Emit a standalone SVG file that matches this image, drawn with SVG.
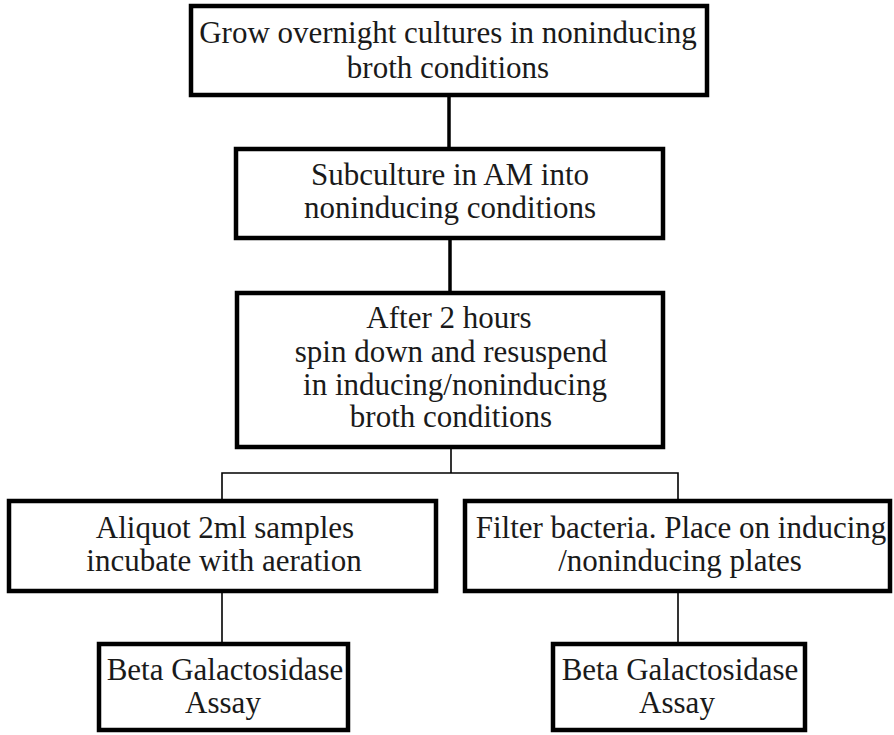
<svg xmlns="http://www.w3.org/2000/svg" width="894" height="735" viewBox="0 0 894 735">
  <style>
    .box { fill: #ffffff; stroke: #000000; stroke-width: 4.5; }
    .lbl { font-family: "Liberation Serif", "Times New Roman", serif; font-size: 31px; fill: #1a1a1a; text-anchor: middle; }
    .thick { stroke: #000000; stroke-width: 3.5; fill: none; }
    .thin { stroke: #000000; stroke-width: 1.6; fill: none; }
  </style>
  <rect width="894" height="735" fill="#ffffff"/>

  <!-- connectors -->
  <g id="connectors">
    <line class="thick" x1="449" y1="96" x2="449" y2="149"/>
    <line class="thick" x1="450" y1="238" x2="450" y2="293"/>
    <line class="thin" x1="451" y1="447" x2="451" y2="473"/>
    <polyline class="thin" points="222,501 222,473 678,473 678,501"/>
    <line class="thin" x1="222" y1="591" x2="222" y2="644"/>
    <line class="thin" x1="678" y1="591" x2="678" y2="644"/>
  </g>

  <g id="grow-overnight">
    <rect class="box" x="191" y="6" width="516" height="89"/>
    <text class="lbl" x="448" y="43">Grow overnight cultures in noninducing</text>
    <text class="lbl" x="448" y="78">broth conditions</text>
  </g>

  <g id="subculture">
    <rect class="box" x="236" y="149" width="427" height="89"/>
    <text class="lbl" x="450" y="185">Subculture in AM into</text>
    <text class="lbl" x="450" y="218">noninducing conditions</text>
  </g>

  <g id="resuspend">
    <rect class="box" x="237" y="293" width="426" height="154"/>
    <text class="lbl" x="449" y="328">After 2 hours</text>
    <text class="lbl" x="451" y="362">spin down and resuspend</text>
    <text class="lbl" x="455" y="395">in inducing/noninducing</text>
    <text class="lbl" x="451" y="427">broth conditions</text>
  </g>

  <g id="aliquot">
    <rect class="box" x="9" y="501" width="427" height="90"/>
    <text class="lbl" x="225" y="538">Aliquot 2ml samples</text>
    <text class="lbl" x="224" y="571">incubate with aeration</text>
  </g>

  <g id="filter">
    <rect class="box" x="465" y="501" width="425" height="90"/>
    <text class="lbl" x="681" y="538">Filter bacteria. Place on inducing</text>
    <text class="lbl" x="680" y="571">/noninducing plates</text>
  </g>

  <g id="assay-left">
    <rect class="box" x="99" y="644" width="249" height="86"/>
    <text class="lbl" x="225" y="680">Beta Galactosidase</text>
    <text class="lbl" x="223" y="713">Assay</text>
  </g>

  <g id="assay-right">
    <rect class="box" x="553" y="644" width="252" height="86"/>
    <text class="lbl" x="680" y="680">Beta Galactosidase</text>
    <text class="lbl" x="677" y="713">Assay</text>
  </g>
</svg>
